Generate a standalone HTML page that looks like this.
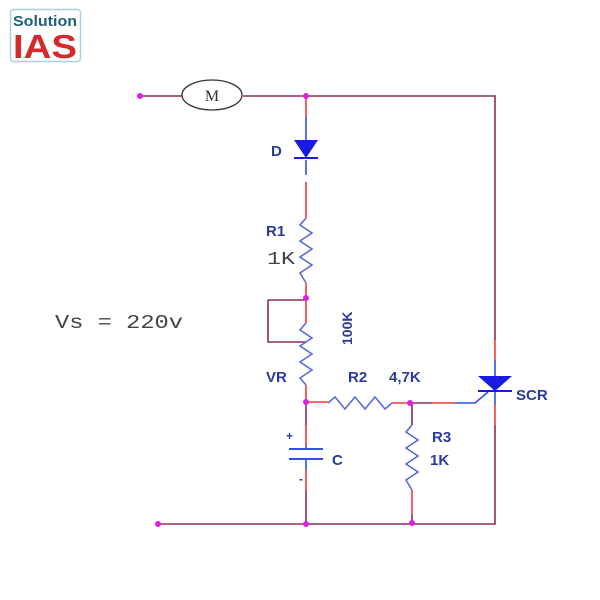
<!DOCTYPE html>
<html><head><style>body{margin:0;background:#fff}</style></head><body>
<svg width="600" height="600" viewBox="0 0 600 600" xmlns="http://www.w3.org/2000/svg" style="display:block">
<rect x="10.5" y="9.5" width="70" height="52" rx="3" fill="#fff" stroke="#a9cfe6" stroke-width="1.5"/>
<text x="13" y="26" textLength="64" lengthAdjust="spacingAndGlyphs" font-family="Liberation Sans, sans-serif" font-weight="bold" font-size="15" fill="#1f5f7a">Solution</text>
<text x="13" y="58" textLength="64" lengthAdjust="spacingAndGlyphs" font-family="Liberation Sans, sans-serif" font-weight="bold" font-size="33" fill="#d62a2a">IAS</text>
<g fill="none" stroke-width="1.6">
<path d="M140 96H182M243 96H495V340M495 425V524H158M306 402V425M306 490V524M412 403V425M412 515V524M268 300H306M268 300V342H306M410 403H432" stroke="#8b2c5a"/>
<path d="M306 96V116M306 182V218M306 283V323M306 385V402M306 402H328M392 403H410M432 403H455M306 425V445M306 470V490M412 490V515M495 340V360M495 405V425" stroke="#f03a3a"/>
<path d="M306 116V140M306 160V175M455 403H475L488 392M495 360V376M495 391V405M306 445V449M306 459V470" stroke="#3050e0"/>
<path d="M306 218L300 225L312 233L300 241L312 249L300 257L312 265L300 273L306 283" stroke="#5a6ae0"/>
<path d="M306 323L300 330L312 338L300 346L312 354L300 362L312 370L300 378L306 385" stroke="#5a6ae0"/>
<path d="M328 403L335 397L345 409L355 397L365 409L375 397L385 409L392 403" stroke="#5a6ae0"/>
<path d="M412 425L406 432L418 440L406 448L418 456L406 464L418 472L406 480L412 490" stroke="#5a6ae0"/>
<path d="M289 449H323M289 459H323" stroke="#3050e0" stroke-width="2"/>
<path d="M294 158H318M478 391H512" stroke="#1a1ae0" stroke-width="2"/>
</g>
<polygon points="294,140 318,140 306,158" fill="#1a1ae0"/>
<polygon points="478,376 512,376 495,391" fill="#1a1ae0"/>
<ellipse cx="212" cy="95" rx="30" ry="15" fill="#fff" stroke="#333" stroke-width="1.3"/>
<text x="212" y="101" text-anchor="middle" font-family="Liberation Serif, serif" font-size="16" fill="#333">M</text>
<g fill="#e020e0">
<circle cx="140" cy="96" r="3"/><circle cx="306" cy="96" r="3"/><circle cx="306" cy="298" r="3"/><circle cx="306" cy="402" r="3"/><circle cx="410" cy="403" r="3"/><circle cx="306" cy="524" r="3"/><circle cx="412" cy="523" r="3"/><circle cx="158" cy="524" r="3"/>
</g>
<g font-family="Liberation Sans, sans-serif" font-weight="bold" font-size="15" fill="#2a3a9a">
<text x="271" y="156">D</text>
<text x="266" y="236">R1</text>
<text x="266" y="382">VR</text>
<text x="348" y="382">R2</text>
<text x="389" y="382">4,7K</text>
<text x="432" y="442">R3</text>
<text x="430" y="465">1K</text>
<text x="516" y="400">SCR</text>
<text x="332" y="465">C</text>
<text x="286" y="440" font-size="12">+</text>
<text x="299" y="483" font-size="12">-</text>
<text transform="translate(352,345) rotate(-90)" font-size="14">100K</text>
</g>
<text x="267" y="264" textLength="28" lengthAdjust="spacingAndGlyphs" font-family="Liberation Mono, monospace" font-size="18" fill="#444">1K</text>
<text x="55" y="328" textLength="128" lengthAdjust="spacingAndGlyphs" font-family="Liberation Mono, monospace" font-size="19" fill="#444">Vs = 220v</text>
</svg>
</body></html>
